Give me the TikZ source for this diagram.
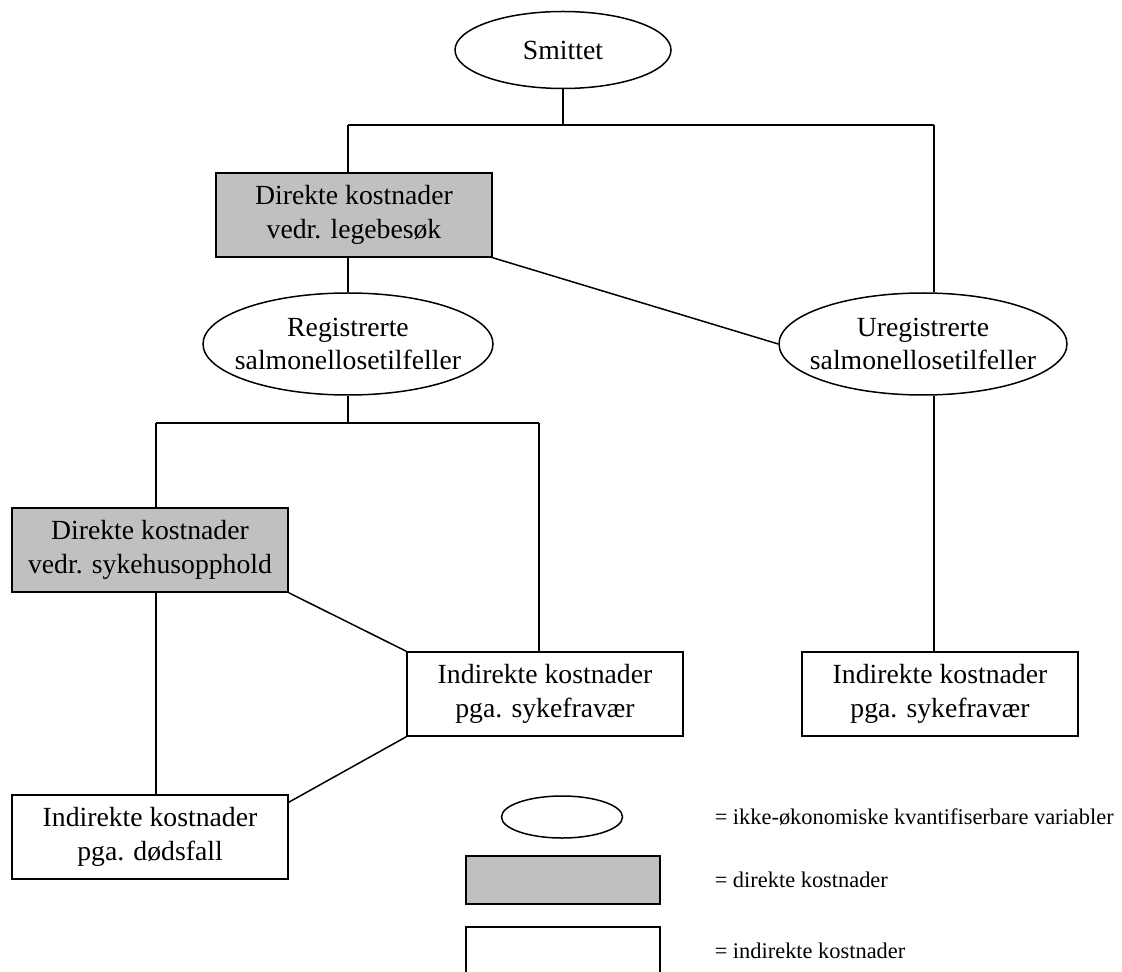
\documentclass[tikz,border=0pt]{standalone}
\usepackage{fontspec}
\setmainfont{Liberation Serif}
\usetikzlibrary{shapes.geometric}
\definecolor{boxgray}{HTML}{C0C0C0}
\tikzset{
  oval/.style={draw, ellipse, inner sep=0pt},
  costbox/.style={draw, rectangle, minimum width=138pt, minimum height=42pt, inner sep=0pt, align=center},
  direct/.style={costbox, fill=boxgray},
  legtext/.style={anchor=west, inner sep=0pt, font=\fontsize{11.2}{13}\selectfont},
}
\begin{document}
\begin{tikzpicture}[x=0.5pt, y=-0.5pt, line width=0.75pt, font=\fontsize{13.85}{16.8}\selectfont]
  \useasboundingbox (0,0) rectangle (1122,972);
  % ellipses
  \node[oval, minimum width=108pt, minimum height=38.5pt] (smittet) at (563,50) {};
  \node (smittettext) at (smittet.center) {Smittet};
  \node[oval, minimum width=145pt, minimum height=51pt] (reg) at (348,344) {};
  \node[align=center] (regtext) at (reg.center) {Registrerte\\salmonellosetilfeller};
  \node[oval, minimum width=144pt, minimum height=51pt] (ureg) at (923,344) {};
  \node[align=center] (uregtext) at (ureg.center) {Uregistrerte\\salmonellosetilfeller};
  % boxes
  \node[direct] (lege) at (354,215) {Direkte kostnader\\vedr. legebes\o k};
  \node[direct] (syke) at (150,550) {Direkte kostnader\\vedr. sykehusopphold};
  \node[costbox] (fravA) at (545,694) {Indirekte kostnader\\pga. sykefrav\ae r};
  \node[costbox] (fravB) at (940,694) {Indirekte kostnader\\pga. sykefrav\ae r};
  \node[costbox] (dod) at (150,837) {Indirekte kostnader\\pga. d\o dsfall};
%
  \coordinate (j1) at (563,125);
  \coordinate (j1l) at (348,125);
  \coordinate (j1r) at (934,125);
  \coordinate (j2) at (348,423);
  \coordinate (j2l) at (156,423);
  \coordinate (j2r) at (539,423);
  \draw (smittet.south) -- (j1);
  \draw (j1l) -- (j1r);
  \draw (j1l) -- (j1l |- lege.north);
  \draw (j1r) -- (j1r |- ureg.north);
  \draw (lege.south -| reg) -- (reg.north);
  \draw (lege.south east) -- (ureg.west);
  \draw (reg.south) -- (j2);
  \draw (j2l) -- (j2r);
  \draw (j2l) -- (j2l |- syke.north);
  \draw (j2r) -- (j2r |- fravA.north);
  \draw (syke.south east) -- (fravA.north west);
  \draw (syke.south -| j2l) -- (dod.north -| j2l);
  \draw (fravA.south west) -- ([yshift=-4pt]dod.north east);
  \draw (ureg.south -| j1r) -- (fravB.north -| j1r);
%
  % legend
  \draw (562,817) ellipse (60.5 and 21);
  \draw[fill=boxgray] (466,856) rectangle (660,904);
  \draw (466,972) -- (466,927) -- (660,927) -- (660,972);
  \node[legtext] (leg1) at (714,817) {= ikke-\o konomiske kvantifiserbare variabler};
  \node[legtext] (leg2) at (714,880) {= direkte kostnader};
  \node[legtext] (leg3) at (714,951) {= indirekte kostnader};
\end{tikzpicture}
\end{document}
